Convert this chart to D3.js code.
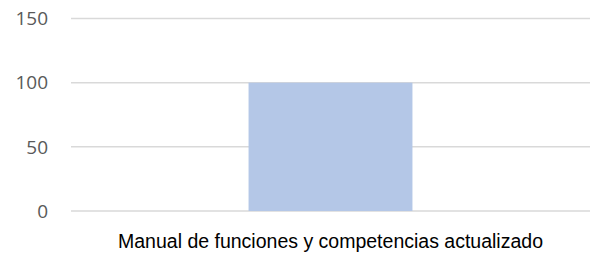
<!DOCTYPE html>
<html>
<head>
<meta charset="utf-8">
<script src="https://cdn.jsdelivr.net/npm/d3@7"></script>
<style>
  body { margin: 0; background: #fff; }
  .tick text { font-family: "Open Sans", sans-serif; font-size: 19px; fill: #595959; }
  .catLabel { font-family: "Liberation Sans", Arial, sans-serif; font-size: 20px; fill: #000; }
</style>
</head>
<body>
<script>
var categories = ["Manual de funciones y competencias actualizado"];
var values = [100];
var yTicks = [0, 50, 100, 150];

var W = 590, H = 253;
var mLeft = 71, mRight = 0, mTop = 18.5, mBottom = 42;

function display() {
    var svg = d3.select("body")
        .append("svg")
        .attr("width", W)
        .attr("height", H);

    var x = d3.scaleBand()
        .domain(categories)
        .range([mLeft, W - mRight])
        .padding(0.52);

    var y = d3.scaleLinear()
        .domain([0, 150])
        .range([H - mBottom, mTop]);

    // gridlines
    svg.append("g").selectAll(".grid")
        .data(yTicks)
        .enter().append("line")
        .attr("x1", mLeft)
        .attr("x2", W - mRight)
        .attr("y1", function(d) { return y(d); })
        .attr("y2", function(d) { return y(d); })
        .attr("stroke", "#d9d9d9")
        .attr("stroke-width", 1.5);

    // y axis labels
    var yAxis = svg.append("g")
        .attr("transform", "translate(" + 48 + ",0)")
        .call(d3.axisLeft(y).tickValues(yTicks).tickSize(0).tickPadding(0));
    yAxis.select(".domain").remove();
    yAxis.selectAll("text").attr("dy", "0.33em");

    // bars
    svg.append("g").selectAll(".bar")
        .data(values)
        .enter().append("rect")
        .attr("x", function(d, i) { return x(categories[i]); })
        .attr("y", function(d) { return y(d); })
        .attr("width", x.bandwidth())
        .attr("height", function(d) { return y(0) - y(d); })
        .attr("fill", "#b4c7e7");

    // category labels
    svg.append("g").selectAll(".catLabel")
        .data(categories)
        .enter().append("text")
        .attr("class", "catLabel")
        .attr("x", function(d) { return x(d) + x.bandwidth() / 2; })
        .attr("y", H - 5)
        .attr("text-anchor", "middle")
        .attr("textLength", 425)
        .attr("lengthAdjust", "spacingAndGlyphs")
        .text(function(d) { return d; });
}

document.addEventListener("DOMContentLoaded", function() {
    display();
});
</script>
</body>
</html>
